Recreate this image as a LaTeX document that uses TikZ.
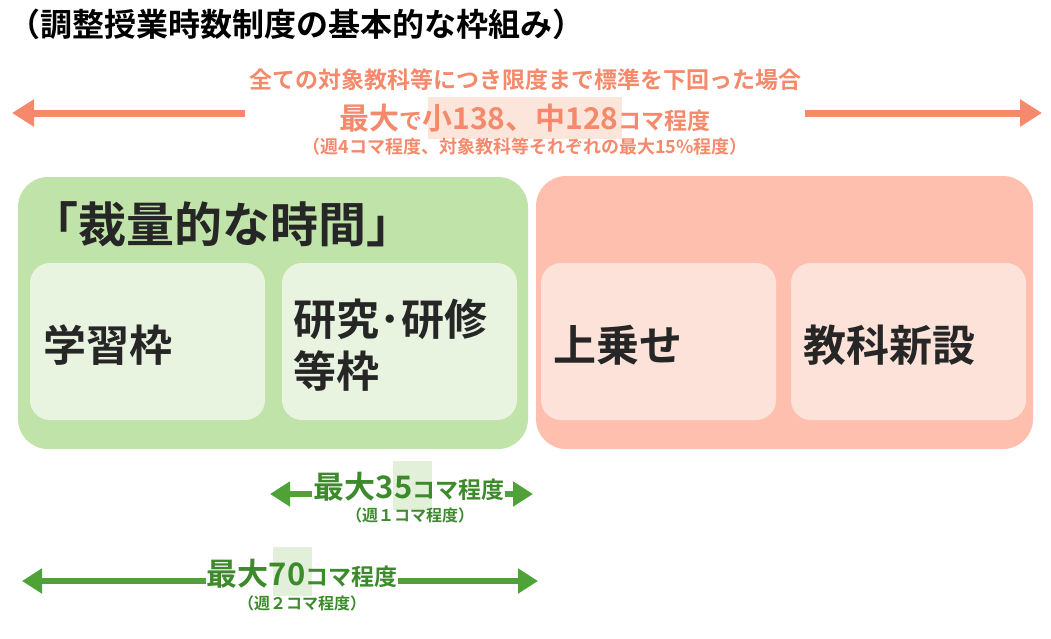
\documentclass[tikz,border=0pt]{standalone}
\usepackage{fontspec}
\setmainfont{Noto Sans CJK JP}[BoldFont={Noto Sans CJK JP Bold}]
\usetikzlibrary{arrows.meta}
\definecolor{salmon}{HTML}{F4896B}
\definecolor{gbig}{HTML}{BFE3A9}
\definecolor{gin}{HTML}{E8F4E0}
\definecolor{pbig}{HTML}{FFBFAE}
\definecolor{pin}{HTML}{FCE2D8}
\definecolor{garrow}{HTML}{4FA238}
\definecolor{gtext}{HTML}{3C8A2C}
\definecolor{ghl}{HTML}{E2F0D9}
\definecolor{phl}{HTML}{FCE6DC}
\definecolor{dark}{HTML}{262626}
\tikzset{
 big/.style={rounded corners=30, draw=none},
 inner/.style={rounded corners=20, draw=none, fill=gin},
 lbl/.style={font=\bfseries\fontsize{43}{52}\selectfont, text=dark, anchor=west, align=left},
 oarr/.style={draw=salmon, line width=7, -{Triangle[width=26,length=22]}},
 garr/.style={draw=garrow, line width=6, {Triangle[width=24,length=20]}-{Triangle[width=24,length=20]}},
}
\begin{document}
\begin{tikzpicture}[x=1pt,y=-1pt]
\useasboundingbox (0,0) rectangle (1051,638);
\node[anchor=west, font=\bfseries\fontsize{32}{36}\selectfont, inner sep=0] (title) at (8,24) {（調整授業時数制度の基本的な枠組み）};
% top
\coordinate (la) at (245,113); \coordinate (lb) at (12,113);
\coordinate (ra) at (805,113); \coordinate (rb) at (1042,113);
\draw[oarr] (la) -- (lb);
\draw[oarr] (ra) -- (rb);
\fill[phl] (428,97) rectangle (622,139);
\node[font=\bfseries\fontsize{23}{27}\selectfont, text=salmon] (t1) at (525,80) {全ての対象教科等につき限度まで標準を下回った場合};
\node[font=\bfseries, text=salmon, inner sep=0] (t2) at (525,118) {{\fontsize{30}{34}\selectfont 最大}{\fontsize{23}{27}\selectfont で}{\fontsize{30}{34}\selectfont 小138、中128}{\fontsize{23}{27}\selectfont コマ程度}};
\node[font=\bfseries\fontsize{18}{21}\selectfont, text=salmon] (t3) at (525,147) {（週4コマ程度、対象教科等それぞれの最大15\%程度）};
% green
\fill[gbig, big] (18,177) rectangle (528,449);
\node[font=\bfseries\fontsize{48}{54}\selectfont, text=dark, anchor=west, inner sep=0] (gt) at (30,224) {「裁量的な時間」};
\fill[inner] (30,263) rectangle (265,420);
\fill[inner] (282,263) rectangle (517,420);
\node[lbl] (a) at (40,345) {学習枠};
\node[lbl] (b) at (290,345) {研究･研修\\等枠};
% pink
\fill[pbig, big] (536,176) rectangle (1033,449);
\fill[inner, fill=pin] (541,263) rectangle (776,420);
\fill[inner, fill=pin] (791,263) rectangle (1026,420);
\node[lbl] (c) at (550,345) {上乗せ};
\node[lbl] (d) at (800,345) {教科新設};
% green arrows
\coordinate (g1a) at (270,494); \coordinate (g1b) at (533,494);
\draw[garr] (g1a) -- (g1b);
\fill[white] (312,465) rectangle (505,508);
\fill[ghl] (393,461) rectangle (432,510);
\node[font=\bfseries, text=gtext, inner sep=0] (m1) at (409,487) {{\fontsize{31}{34}\selectfont 最大35}{\fontsize{23}{26}\selectfont コマ程度}};
\node[font=\bfseries\fontsize{16}{19}\selectfont, text=gtext] (s1) at (410,515) {（週１コマ程度）};
\coordinate (g2a) at (22,581); \coordinate (g2b) at (538,581);
\draw[garr] (g2a) -- (g2b);
\fill[white] (206,553) rectangle (398,596);
\fill[ghl] (273,547) rectangle (312,596);
\node[font=\bfseries, text=gtext, inner sep=0] (m2) at (302,574) {{\fontsize{31}{34}\selectfont 最大70}{\fontsize{23}{26}\selectfont コマ程度}};
\node[font=\bfseries\fontsize{16}{19}\selectfont, text=gtext] (s2) at (302,603) {（週２コマ程度）};
\end{tikzpicture}
\end{document}
